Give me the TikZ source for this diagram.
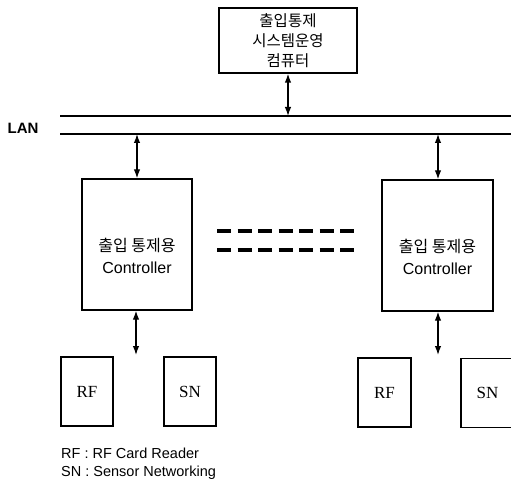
\documentclass[tikz,border=0pt]{standalone}
\usepackage{fontspec}
\setmainfont{Liberation Sans}
\newfontfamily\krfont{Noto Sans CJK KR}
\newfontfamily\rmserif{Liberation Serif}
\usepackage{tikz}
\usetikzlibrary{arrows.meta, positioning, calc}
\tikzset{
  >={Latex[length=9,width=6.5]},  % frecce piene
  % riquadri
  box/.style={draw,line width=1.3pt,inner sep=0},
  ctrl box/.style={box,minimum width=110,minimum height=131},
  dev box/.style={box,minimum width=52,minimum height=69,font=\rmserif\fontsize{17}{19}\selectfont},
  % connessioni
  link/.style={<->,line width=1.3pt},
  lan/.style={line width=1.4pt},
  dots/.style={line width=3.8pt,dash pattern=on 14 off 6.5}
}
\begin{document}
\begin{tikzpicture}[x=1pt,y=-1pt]
    \useasboundingbox (0,0) rectangle (511,486);
    % computer di gestione
    \node[box,minimum width=138,minimum height=65,align=center,
      font=\krfont\fontsize{15.5}{20}\selectfont] (pc) at (288,40.5)
      {출입통제\\시스템운영\\컴퓨터};
    % LAN
    \coordinate (lanA) at (60,116);
    \coordinate (lanB) at (511,116);
    \coordinate (lanC) at (60,134);
    \coordinate (lanD) at (511,134);
    \draw[lan] (lanA) -- (lanB);
    \draw[lan] (lanC) -- (lanD);
    \node[font=\bfseries\fontsize{15}{16}\selectfont,inner sep=0] (lan) at (23,128) {LAN};
    % controller
    \node[ctrl box] (ctrlL) at (137,244.5) {};
    \node[ctrl box,minimum width=111] (ctrlR) at (437.5,245.5) {};
    \node[align=center,font=\fontsize{16}{22}\selectfont] (txtL) at ([yshift=-11]ctrlL.center)
      {{\krfont 출입 통제용}\\Controller};
    \node[align=center,font=\fontsize{16}{22}\selectfont] (txtR) at ([yshift=-11]ctrlR.center)
      {{\krfont 출입 통제용}\\Controller};
    % dispositivi
    \node[dev box] (rfL) at (87,391.5) {RF};
    \node[dev box] (snL) at (190,391.5) {SN};
    \node[dev box,minimum width=53] (rfR) at (384.5,392.5) {RF};
    \node[dev box,minimum width=53] (snR) at (487.5,393) {SN};
    % collegamenti
    \coordinate (pcLan) at (288,116);
    \coordinate (lanL) at (137,134);
    \coordinate (lanR) at (438,134);
    \coordinate (devL) at (136,355);
    \coordinate (devR) at (438,355);
    \draw[link] (pc.south) -- (pcLan);
    \draw[link] (lanL) -- (lanL |- ctrlL.north);
    \draw[link] (lanR) -- (lanR |- ctrlR.north);
    \draw[link] (devL |- ctrlL.south) -- (devL);
    \draw[link] (devR |- ctrlR.south) -- (devR);
    % tratteggio tra i controller
    \draw[dots] (217,231) -- (356,231);
    \draw[dots] (217,250) -- (356,250);
    % legenda
    \node[anchor=west,align=left,font=\fontsize{14.5}{18}\selectfont,inner sep=0] (legend) at (61,464)
      {RF : RF Card Reader\\SN : Sensor Networking};
  \end{tikzpicture}
\end{document}
